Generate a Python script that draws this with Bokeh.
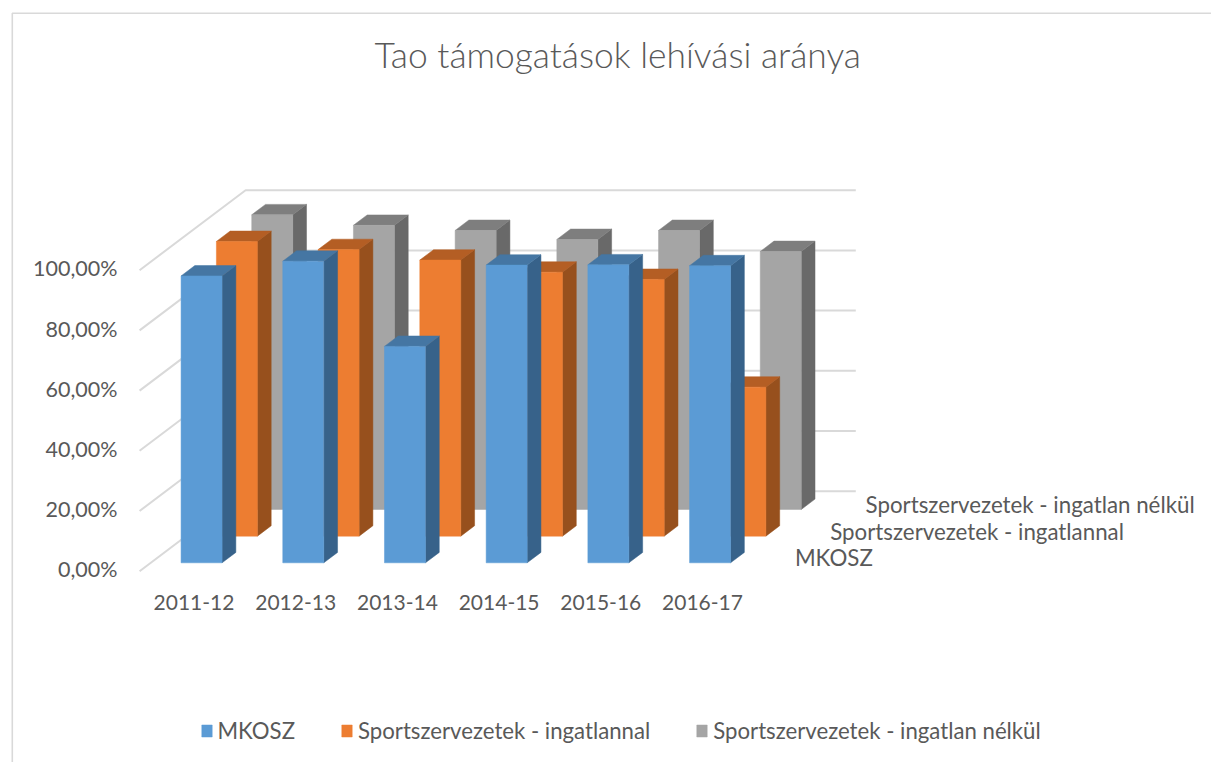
from bokeh.plotting import figure
from bokeh.embed import file_html
from bokeh.resources import INLINE
from bokeh.models import FixedTicker, Legend, LegendItem, Range1d
from bokeh.core.properties import value

# ---- data ----
categories = ["2011-12", "2012-13", "2013-14", "2014-15", "2015-16", "2016-17"]
mkosz = [95.3, 100.2, 71.9, 98.9, 99.0, 98.7]
ingatlannal = [97.9, 95.2, 91.7, 87.7, 85.3, 49.5]
ingatlan_nelkul = [97.9, 94.4, 92.7, 89.7, 92.7, 85.7]
series_names = ["MKOSZ", "Sportszervezetek - ingatlannal", "Sportszervezetek - ingatlan nélkül"]
chart_title = "Tao támogatások lehívási aránya"
y_ticks = [0, 20, 40, 60, 80, 100]
y_labels = ["0,00%", "20,00%", "40,00%", "60,00%", "80,00%", "100,00%"]

# ---- style / layout ----
FONT = "Lato"
TXT = "#595959"
GRID = "#D9D9D9"
FACE = ["#5B9BD5", "#ED7D31", "#A5A5A5"]
TOP = ["#4576A3", "#B45E24", "#7E7E7E"]
SIDE = ["#37628A", "#97501D", "#696969"]

W, H = 1211, 762
PX_X = 101.7        # px per category
PX_Y = 3.01         # px per percent
X0_PAGE, Y0_PAGE = 193.5, 570.7   # page position of category 0 / value 0
Y_LABEL_LIFT = 1.8  # px the y tick labels sit above their gridline ends


def X(px):
    return (px - X0_PAGE) / PX_X


def Y(py):
    return (Y0_PAGE - py) / PX_Y


# depth projection, in data units per unit of depth (0 = front, 1 = back wall)
DX = 106 / PX_X
DY = 80 / PX_Y
BAND_SHIFT = -0.035
BAND_L = -0.5 + BAND_SHIFT
DEPTHS = [0.105, 0.105 + 1 / 3, 0.105 + 2 / 3]
BAR_W = 41 / PX_X
BAR_D = 0.13

p = figure(width=W, height=H, output_backend="svg", toolbar_location=None,
           x_range=(X(0), X(W)), y_range=(Y(H), Y(0)),
           min_border=0, min_border_left=0, min_border_right=0,
           min_border_top=0, min_border_bottom=0,
           outline_line_color=None, background_fill_color="white",
           border_fill_color="white")
p.grid.visible = False
p.extra_y_ranges = {"labels": Range1d(Y(H + Y_LABEL_LIFT), Y(Y_LABEL_LIFT))}

for ax in (p.xaxis[0], p.yaxis[0]):
    ax.axis_line_color = None
    ax.major_tick_line_color = None
    ax.minor_tick_line_color = None
    ax.major_tick_in = 0
    ax.major_tick_out = 0
    ax.minor_tick_in = 0
    ax.minor_tick_out = 0
    ax.major_label_text_font = FONT
    ax.major_label_text_color = TXT
    ax.major_label_text_font_style = "normal"

p.xaxis[0].major_label_text_font_size = "21px"
p.xaxis[0].ticker = FixedTicker(ticks=list(range(len(categories))))
p.xaxis[0].major_label_overrides = {i: c for i, c in enumerate(categories)}
p.xaxis[0].fixed_location = Y(594)
p.xaxis[0].major_label_standoff = 0
p.yaxis[0].major_label_text_font_size = "21.5px"
p.yaxis[0].y_range_name = "labels"
p.yaxis[0].ticker = FixedTicker(ticks=y_ticks)
p.yaxis[0].major_label_overrides = dict(zip(y_ticks, y_labels))
p.yaxis[0].fixed_location = X(126)
p.yaxis[0].major_label_standoff = 9
p.yaxis[0].major_label_orientation = "horizontal"

# chart area border: only its left and top edges are visible
p.line([X(11.8), X(11.8), X(W)], [Y(H), Y(12.7), Y(12.7)], line_color=GRID, line_width=1.6)

# title
p.text([X(374)], [Y(54)], text=[chart_title], text_font=value("Lato Light"),
       text_font_size="35.4px", text_color=TXT, text_align="left", text_baseline="middle")

# walls: gridlines running along the side wall and across the back wall
band_r = BAND_L + len(categories)
for v in y_ticks:
    p.line([BAND_L, BAND_L + DX, band_r + DX], [v, v + DY, v + DY],
           line_color=GRID, line_width=2)

series = [mkosz, ingatlannal, ingatlan_nelkul]
renderers = {}
for s in (2, 1, 0):
    d = DEPTHS[s]
    xs_f, ys_f, xs_t, ys_t, xs_s, ys_s = [], [], [], [], [], []
    for i, v in enumerate(series[s]):
        l = i + BAND_SHIFT + d * DX - BAR_W / 2
        r = l + BAR_W
        b = d * DY
        tp = b + v
        ox, oy = BAR_D * DX, BAR_D * DY
        xs_f.append([l, r, r, l]); ys_f.append([b, b, tp, tp])
        xs_t.append([l, r, r + ox, l + ox]); ys_t.append([tp, tp, tp + oy, tp + oy])
        xs_s.append([r, r + ox, r + ox, r]); ys_s.append([b, b + oy, tp + oy, tp])
    p.patches(xs_s, ys_s, fill_color=SIDE[s], line_color=SIDE[s], line_width=0.5)
    p.patches(xs_t, ys_t, fill_color=TOP[s], line_color=TOP[s], line_width=0.5)
    renderers[s] = p.patches(xs_f, ys_f, fill_color=FACE[s], line_color=FACE[s], line_width=0.5)
    # depth-axis label beside the floor at this series' depth
    p.text([band_r + d * DX + 34 / PX_X], [d * DY + 1.7], text=[series_names[s]],
           text_font=value(FONT), text_font_size="22.3px", text_color=TXT,
           text_align="left", text_baseline="middle")

legend = Legend(items=[LegendItem(label=series_names[s], renderers=[renderers[s]]) for s in range(3)],
                orientation="horizontal", location=(199.5, H - 744),
                spacing=45, label_standoff=5, glyph_width=13, glyph_height=15,
                label_text_font=FONT, label_text_font_size="22.2px", label_text_color=TXT,
                border_line_color=None, background_fill_alpha=0,
                padding=0, margin=0)
p.add_layout(legend, "center")

open("out.html", "w").write(file_html(p, INLINE))
